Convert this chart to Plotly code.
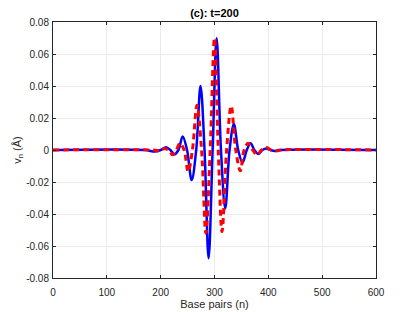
import plotly.graph_objects as go

# Blue (solid) series: base pair index and displacement
blue_n = [0, 170, 189.5, 200, 210, 218, 225.4, 233, 240.9, 249, 257.6, 266, 274, 281.5,
          289, 296.5, 304, 312, 320, 328, 336, 344, 352, 360, 367, 374, 381, 389, 396,
          404, 412, 420, 600]
blue_v = [0, 0, -0.001, 0, 0.0017, 0, -0.0027, 0, 0.0085, 0, -0.0188, 0, 0.040, 0,
          -0.0677, 0, 0.0698, 0, -0.0365, 0, 0.0163, 0, -0.0079, 0, 0.0042, 0, -0.0025, 0,
          0.001, 0, -0.0006, 0, 0]

# Red (dashed) series
red_n = [0, 185, 200, 207, 214.5, 222, 229, 236, 243.5, 251, 259, 267.5, 276, 284, 292,
         300, 307, 314, 322.5, 331, 339.5, 348, 355, 362.5, 371, 379, 387.5, 396, 405,
         415, 425, 600]
red_v = [0, 0, -0.0005, 0.001, 0, -0.003, 0, 0.0042, 0, -0.0135, 0, 0.028, 0, -0.052, 0,
         0.070, 0, -0.051, 0, 0.0275, 0, -0.013, 0, 0.0042, 0, -0.003, 0, 0.0015, 0,
         -0.0006, 0, 0]

x_ticks = [0, 100, 200, 300, 400, 500, 600]
y_ticks = [-0.08, -0.06, -0.04, -0.02, 0, 0.02, 0.04, 0.06, 0.08]
y_tick_text = ["-0.08", "-0.06", "-0.04", "-0.02", "0", "0.02", "0.04", "0.06", "0.08"]

fig = go.Figure()
fig.add_trace(go.Scatter(x=blue_n, y=blue_v, mode="lines",
                         line=dict(color="#0000ff", width=2.5, shape="spline", smoothing=1.0),
                         showlegend=False))
fig.add_trace(go.Scatter(x=red_n, y=red_v, mode="lines",
                         line=dict(color="#ff0000", width=3, dash="6px,4px",
                                   shape="spline", smoothing=1.0),
                         showlegend=False))

axis_common = dict(showline=True, linecolor="#262626", linewidth=1, mirror="ticks",
                   ticks="inside", ticklen=3, tickcolor="#262626", automargin=False,
                   showgrid=True, gridcolor="#ebebeb", gridwidth=1, zeroline=False,
                   tickfont=dict(family="Liberation Sans, Arial", size=10, color="#262626"))

# page body has an 8px margin, so the figure is shrunk and offsets compensated
W, H = 407, 304
L, R, T, B = 45, 39, 14, 34

fig.update_layout(
    width=W, height=H,
    margin=dict(l=L, r=R, t=T, b=B),
    paper_bgcolor="white", plot_bgcolor="white",
    font=dict(family="Liberation Sans, Arial", color="#262626"),
    title=dict(text="<b>(c): t=200</b>", x=(L + (W - R)) / 2 / W, xanchor="center",
               y=1 - 5 / H, yanchor="middle",
               font=dict(size=11, color="black")),
    xaxis=dict(range=[0, 600], tickvals=x_ticks, ticklabelstandoff=5,
               title=dict(text="Base pairs (n)", standoff=3,
                          font=dict(size=11, color="#262626")),
               **axis_common),
    yaxis=dict(range=[-0.08, 0.08], tickvals=y_ticks, ticktext=y_tick_text,
               ticklabelstandoff=1,
               title=dict(text="v<sub>n</sub> (Å)", standoff=2,
                          font=dict(size=11, color="#262626")),
               **axis_common),
)

fig.write_html("out.html")
